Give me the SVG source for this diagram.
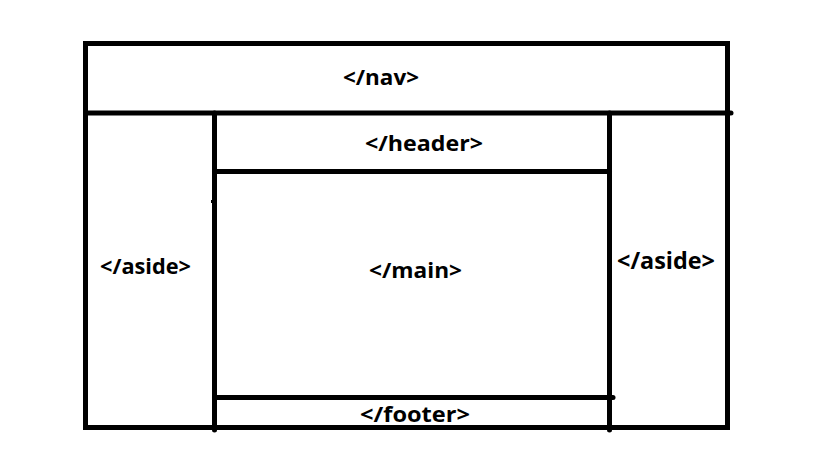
<svg xmlns="http://www.w3.org/2000/svg" width="819" height="460" viewBox="0 0 819 460">
<style>
.ln{stroke:#000;stroke-width:5;fill:none;stroke-linecap:round}
.t{font-family:"Open Sans","Noto Sans","Liberation Sans",sans-serif;font-weight:bold;font-size:22px;fill:#000;text-anchor:middle}
</style>
<rect width="819" height="460" fill="#fff"/>
<g id="connectors">
<rect class="ln" x="85.5" y="43.5" width="642" height="384" stroke-linecap="butt"/>
<line class="ln" x1="85.5" y1="113" x2="731" y2="113"/>
<line class="ln" x1="214.5" y1="113" x2="214.5" y2="430"/>
<line class="ln" x1="609.5" y1="113" x2="609.5" y2="430"/>
<line class="ln" x1="214.5" y1="171.5" x2="609.5" y2="171.5"/>
<line class="ln" x1="214.5" y1="397.5" x2="613" y2="397.5"/>
<rect x="211" y="200" width="2" height="3" fill="#000"/>
</g>
<g id="nav"><text class="t" x="381" y="85" textLength="76" lengthAdjust="spacingAndGlyphs">&lt;/nav&gt;</text></g>
<g id="header"><text class="t" x="424" y="151" textLength="118" lengthAdjust="spacingAndGlyphs">&lt;/header&gt;</text></g>
<g id="aside-left"><text class="t" x="145.5" y="274" textLength="91" lengthAdjust="spacingAndGlyphs">&lt;/aside&gt;</text></g>
<g id="main"><text class="t" x="415.5" y="278" textLength="93" lengthAdjust="spacingAndGlyphs">&lt;/main&gt;</text></g>
<g id="aside-right"><text class="t" x="666" y="269" textLength="98" lengthAdjust="spacingAndGlyphs" style="font-size:23px">&lt;/aside&gt;</text></g>
<g id="footer"><text class="t" x="415" y="422" textLength="110" lengthAdjust="spacingAndGlyphs">&lt;/footer&gt;</text></g>
</svg>
